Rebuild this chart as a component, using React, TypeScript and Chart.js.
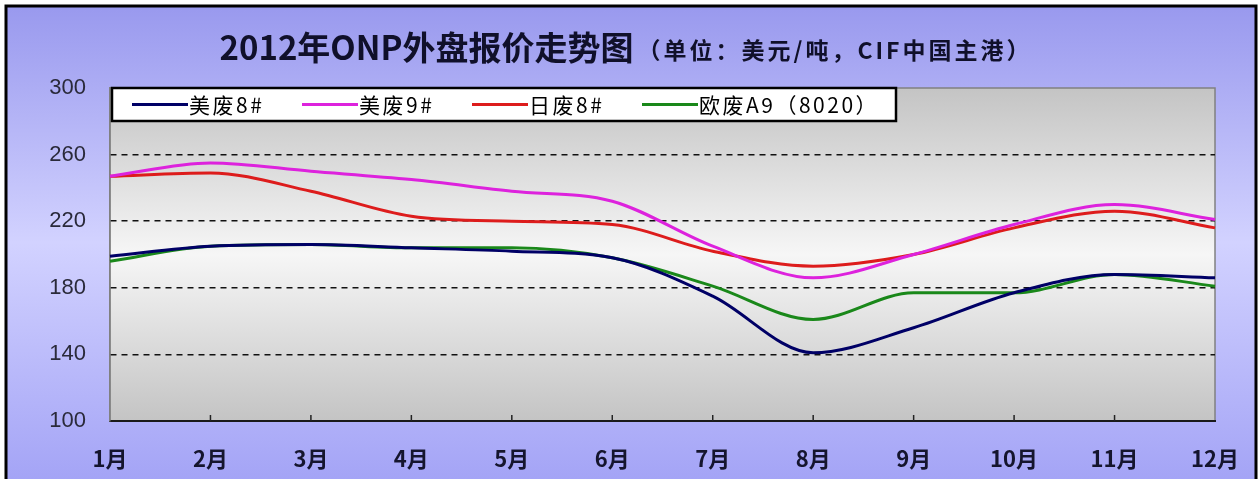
import React, { useEffect, useRef } from "react";
import { Chart, registerables } from "chart.js";

Chart.register(...registerables);

const months = ["1月", "2月", "3月", "4月", "5月", "6月", "7月", "8月", "9月", "10月", "11月", "12月"];
const us8 = [199, 205, 206, 204, 202, 198, 175, 141, 156, 177, 188, 186];
const us9 = [247, 255, 250, 245, 238, 232, 205, 186, 200, 218, 230, 221];
const jp8 = [247, 249, 238, 223, 220, 218, 202, 193, 200, 216, 226, 216];
const euA9 = [196, 205, 206, 204, 204, 198, 181, 161, 177, 177, 188, 181];
const seriesNames = ["美废8#", "美废9#", "日废8#", "欧废A9（8020）"];
const seriesColors = ["#000066", "#dd22dd", "#dd1c1c", "#1a881a"];
const titleMain = "2012年ONP外盘报价走势图";
const titleSub = "（单位：美元/吨，CIF中国主港）";
const yTicks = [100, 140, 180, 220, 260, 300];

const W = 1258;
const H = 479;

const bgPlugin = {
  id: "bgPlugin",
  beforeDraw(chart: any) {
    const ctx = chart.ctx;
    const { left, right, top, bottom } = chart.chartArea;
    ctx.save();
    ctx.fillStyle = "#ffffff";
    ctx.fillRect(0, 0, W, H);
    const g = ctx.createLinearGradient(0, 6, 0, H);
    g.addColorStop(0, "#9999ee");
    g.addColorStop(0.5, "#d2d2ff");
    g.addColorStop(1, "#a4a4f6");
    ctx.fillStyle = g;
    ctx.fillRect(6, 6, 1250, H);
    ctx.strokeStyle = "#000";
    ctx.lineWidth = 3;
    ctx.beginPath();
    ctx.moveTo(6, H + 5);
    ctx.lineTo(6, 6);
    ctx.lineTo(1256, 6);
    ctx.lineTo(1256, H + 5);
    ctx.stroke();
    const pg = ctx.createLinearGradient(0, top, 0, bottom);
    pg.addColorStop(0, "#c4c4c4");
    pg.addColorStop(0.5, "#f6f6f6");
    pg.addColorStop(1, "#c4c4c4");
    ctx.fillStyle = pg;
    ctx.fillRect(left, top, right - left, bottom - top);
    ctx.strokeStyle = "#808080";
    ctx.lineWidth = 1.5;
    ctx.strokeRect(left, top, right - left, bottom - top);
    // title
    ctx.textBaseline = "middle";
    ctx.fillStyle = "#10102a";
    ctx.font = "bold 33px 'Noto Sans CJK SC'";
    (ctx as any).letterSpacing = "0px";
    const w1 = ctx.measureText(titleMain).width;
    ctx.font = "bold 23px 'Noto Sans CJK SC'";
    (ctx as any).letterSpacing = "3px";
    const w2 = ctx.measureText(titleSub).width;
    const x0 = 624 - (w1 + w2) / 2;
    ctx.font = "bold 33px 'Noto Sans CJK SC'";
    (ctx as any).letterSpacing = "0px";
    ctx.fillText(titleMain, x0, 47);
    ctx.font = "bold 23px 'Noto Sans CJK SC'";
    (ctx as any).letterSpacing = "3px";
    ctx.fillText(titleSub, x0 + w1 + 4, 50);
    (ctx as any).letterSpacing = "0px";
    ctx.restore();
  },
  afterDatasetsDraw(chart: any) {
    const ctx = chart.ctx;
    const xs = chart.scales.x;
    const { bottom } = chart.chartArea;
    ctx.save();
    ctx.strokeStyle = "#222";
    ctx.lineWidth = 1.5;
    for (let i = 1; i < months.length - 1; i++) {
      const x = xs.getPixelForTick(i);
      ctx.beginPath();
      ctx.moveTo(x, bottom);
      ctx.lineTo(x, bottom - 6);
      ctx.stroke();
    }
    // legend
    const lx = 112, ly = 88, lw = 784, lh = 33;
    ctx.fillStyle = "#ffffff";
    ctx.fillRect(lx, ly, lw, lh);
    ctx.strokeStyle = "#000";
    ctx.lineWidth = 2.5;
    ctx.strokeRect(lx, ly, lw, lh);
    ctx.font = "21px 'Noto Sans CJK SC'";
    (ctx as any).letterSpacing = "2.5px";
    ctx.textBaseline = "middle";
    chart.data.datasets.forEach((ds: any, i: number) => {
      const sx = lx + 20 + i * 170;
      const cy = ly + lh / 2;
      ctx.strokeStyle = ds.borderColor;
      ctx.lineWidth = 3;
      ctx.beginPath();
      ctx.moveTo(sx, cy);
      ctx.lineTo(sx + 56, cy);
      ctx.stroke();
      ctx.fillStyle = "#000";
      ctx.fillText(ds.label, sx + 57, cy + 1);
    });
    (ctx as any).letterSpacing = "0px";
    ctx.restore();
  },
};

export default function App() {
  const ref = useRef<HTMLCanvasElement | null>(null);
  useEffect(() => {
    document.body.style.margin = "0";
    const canvas = ref.current;
    if (!canvas) return;
    const data = [us8, us9, jp8, euA9];
    const chart = new Chart(canvas, {
      type: "line",
      data: {
        labels: months,
        datasets: data.map((d, i) => ({
          label: seriesNames[i],
          data: d,
          borderColor: seriesColors[i],
          backgroundColor: seriesColors[i],
          borderWidth: 3,
          pointRadius: 0,
          cubicInterpolationMode: "monotone" as const,
          fill: false,
        })),
      },
      options: {
        responsive: false,
        animation: false,
        devicePixelRatio: 1,
        layout: { padding: { top: 88, right: 43, left: 0, bottom: 0 } },
        plugins: { legend: { display: false }, title: { display: false }, tooltip: { enabled: false } },
        scales: {
          x: {
            offset: false,
            grid: { display: false, drawTicks: false },
            border: { display: true, color: "#1a1a1a", width: 2 },
            ticks: {
              color: "#15152e",
              font: { family: "'Noto Sans CJK SC'", size: 22, weight: "bold" },
              padding: 24,
              maxRotation: 0,
              autoSkip: false,
            },
            afterFit: (s: any) => {
              s.height = 58;
              s.paddingLeft = 0;
              s.paddingRight = 0;
            },
          },
          y: {
            min: 100,
            max: 300,
            afterBuildTicks: (s: any) => {
              s.ticks = yTicks.map((v) => ({ value: v }));
            },
            grid: {
              drawTicks: false,
              lineWidth: 1.5,
              color: (c: any) => (c.tick && (c.tick.value === 100 || c.tick.value === 300) ? "rgba(0,0,0,0)" : "#111"),
            },
            border: { display: true, color: "#808080", width: 1.5, dash: [6, 5] },
            ticks: {
              color: "#2a2a3a",
              font: { family: "'Liberation Sans Narrow', 'Liberation Sans', Arial", size: 22 },
              padding: 24,
            },
            afterFit: (s: any) => {
              s.width = 110;
              s.paddingTop = 0;
              s.paddingBottom = 0;
            },
          },
        },
      },
      plugins: [bgPlugin],
    });
    return () => chart.destroy();
  }, []);
  return <canvas ref={ref} width={W} height={H} style={{ display: "block", width: W, height: H }} />;
}
